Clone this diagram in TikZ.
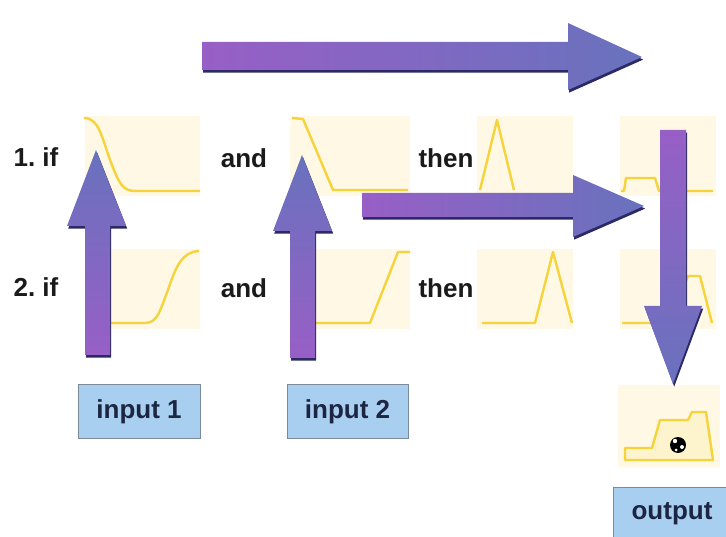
\documentclass[tikz,border=0pt]{standalone}
\usepackage{fontspec}
\setmainfont{Liberation Sans}
\frenchspacing
\definecolor{panelbg}{HTML}{FFF8E4}
\definecolor{curveyel}{HTML}{F6D33A}
\definecolor{boxfill}{HTML}{A9CFF0}
\definecolor{boxline}{HTML}{7C8A98}
\definecolor{iotext}{HTML}{1C2541}
\definecolor{wordc}{HTML}{1A1A1A}
\definecolor{arrowpurple}{HTML}{985FC6}
\definecolor{arrowblue}{HTML}{6872BD}
\definecolor{arrowdark}{HTML}{2C2A66}
\tikzset{
  panel/.style={fill=panelbg, inner sep=0pt, minimum height=80pt},
  curve/.style={draw=curveyel, line width=2.4pt, line join=round},
  word/.style={font=\fontsize{26}{30}\selectfont\bfseries, text=wordc, anchor=base, inner sep=0pt},
  iobox/.style={draw=boxline, fill=boxfill, line width=1pt, text=iotext,
    font=\fontsize{26}{30}\selectfont\bfseries, minimum height=53pt},
  hshade/.style={left color=arrowpurple, right color=arrowblue},
  upshade/.style={top color=arrowblue, bottom color=arrowpurple},
  downshade/.style={top color=arrowpurple, bottom color=arrowblue}
}
\newcommand{\blockarrow}[2]{%
  \fill[arrowdark, xshift=1.2pt, yshift=-2.6pt] #2 -- cycle;
  \shade[#1] #2 -- cycle;}
\begin{document}
\begin{tikzpicture}[x=1pt, y=-1pt]
  \useasboundingbox (0,0) rectangle (726,537);
  % pale panels
  \node[panel, minimum width=115pt] (p11) at (142.5,156) {};
  \node[panel, minimum width=115pt] (p21) at (142.5,289) {};
  \node[panel, minimum width=120pt] (p12) at (350,156) {};
  \node[panel, minimum width=120pt] (p22) at (350,289) {};
  \node[panel, minimum width=96pt] (p13) at (525,156) {};
  \node[panel, minimum width=96pt] (p23) at (525,289) {};
  \node[panel, minimum width=96pt] (p14) at (668,156) {};
  \node[panel, minimum width=96pt] (p24) at (668,289) {};
  \node[panel, minimum width=102pt, minimum height=82pt] (pout) at (669,426) {};
  % membership curves
  \draw[curve] (84,118) .. controls (100,118) and (102,140) .. (112,165) .. controls (120,186) and (124,191) .. (136,191) -- (200,191);
  \draw[curve] (108,323) -- (145,323) .. controls (158,323) and (160,310) .. (168,290) .. controls (176,266) and (182,252) .. (199,251);
  \draw[curve] (292,118) -- (303,119) -- (333,190) -- (408,190);
  \draw[curve] (315,323) -- (370,323) -- (398,252) -- (410,252);
  \draw[curve] (480,190) -- (497,120) -- (514,190);
  \draw[curve] (482,323) -- (535,323) -- (553,252) -- (572,323);
  \draw[curve] (621,191) -- (624,191) -- (626,178) -- (655,178) -- (659,191) -- (713,191);
  \draw[curve] (622,323) -- (668,323) -- (688,276) -- (700,276) -- (712,323);
  \draw[curve, fill=curveyel!25] (625,460) -- (625,448) -- (652,448) -- (660,420) -- (688,420) -- (692,412) -- (706,412) -- (713,460) -- cycle;
  \fill (678,445) circle (8); % centroid ball
  \fill[white] (675,441) circle (2.2) (682,447) circle (2) (676,450) circle (1.5);
  % big arrows
  \blockarrow{hshade}{(202,42) -- (568,42) -- (568,23) -- (642,57) -- (568,90) -- (568,70) -- (202,70)}
  \blockarrow{hshade}{(362,193) -- (573,193) -- (573,175) -- (644,206) -- (573,237) -- (573,217) -- (362,217)}
  \blockarrow{downshade}{(660,130) -- (686,130) -- (686,306) -- (702,306) -- (673,384) -- (644,306) -- (660,306)}
  \blockarrow{upshade}{(85,355) -- (85,226) -- (67,226) -- (96,150) -- (126,226) -- (110,226) -- (110,355)}
  \blockarrow{upshade}{(290,358) -- (290,231) -- (273,231) -- (302,155) -- (332,231) -- (315,231) -- (315,358)}
  % rule words
  \node[word] (if1) at (36,167) {1. if};
  \node[word] (if2) at (36,297) {2. if};
  \node[word] (and1) at (244,168) {and};
  \node[word] (and2) at (244,298) {and};
  \node[word] (then1) at (446,168) {then};
  \node[word] (then2) at (446,298) {then};
  % inputs and output
  \node[iobox, minimum width=122pt] (in1) at (139,411.5) {input 1};
  \node[iobox, minimum width=121pt] (in2) at (347.5,411.5) {input 2};
  \node[iobox, minimum width=118pt] (out) at (672,514) {output};
\end{tikzpicture}
\end{document}
